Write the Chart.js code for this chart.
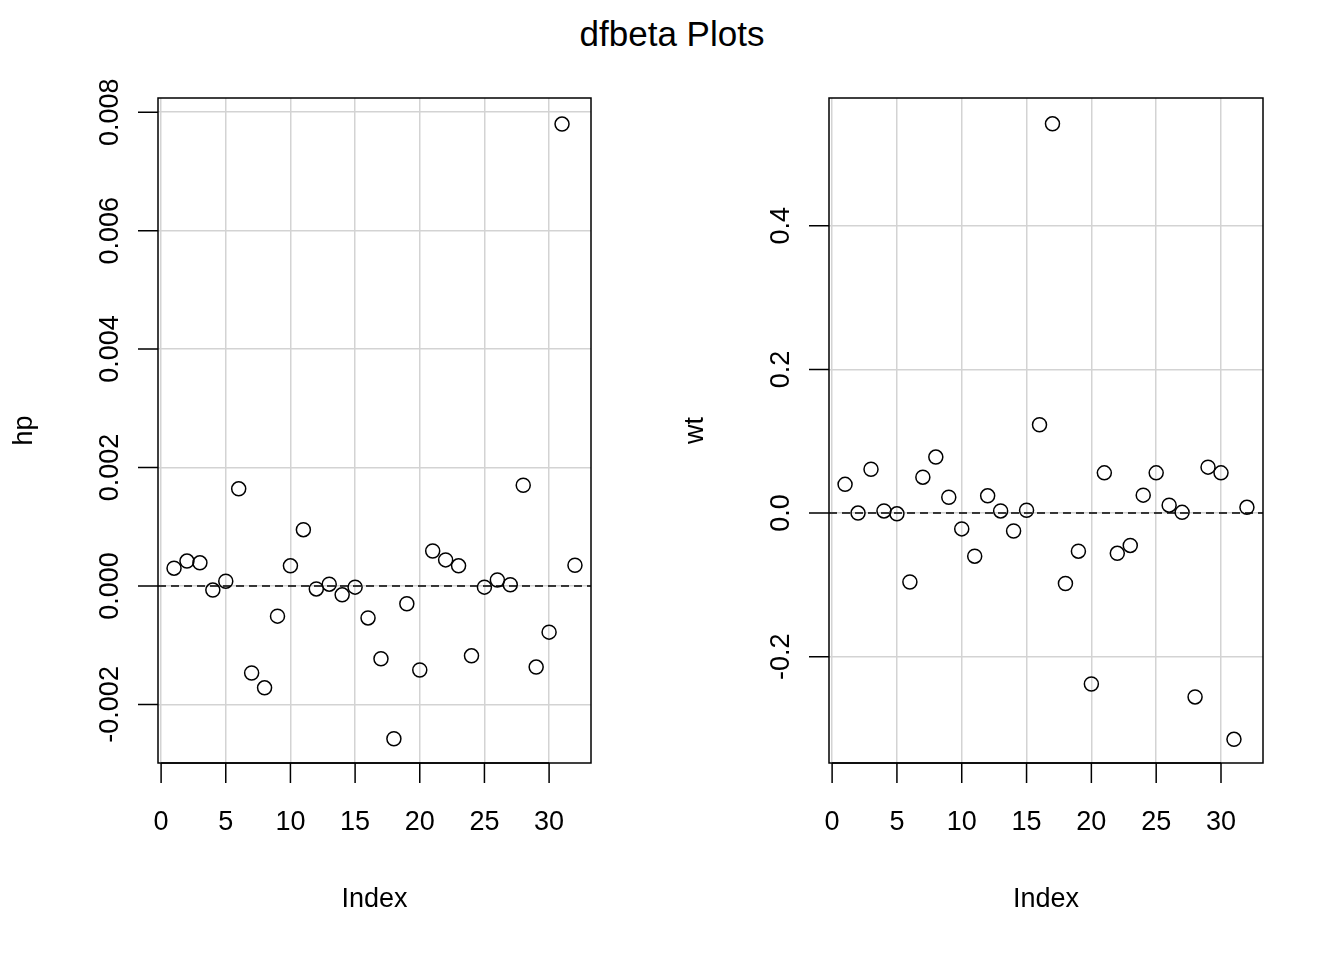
<!DOCTYPE html>
<html>
<head>
<meta charset="utf-8">
<script src="https://cdn.jsdelivr.net/npm/chart.js@4.4.0/dist/chart.umd.min.js"></script>
<style>
  body { margin: 0; background: #fff; width: 1344px; height: 960px; position: relative; overflow: hidden; }
  #title { position: absolute; top: 14px; left: 0; width: 1344px; text-align: center; font: 35px "Liberation Sans", Arial, sans-serif; color: #000; }
  .panel { position: absolute; top: 0; width: 672px; height: 960px; }
</style>
</head>
<body>
<div id="title">dfbeta Plots</div>
<div class="panel" style="left:0"><canvas id="hpChart"></canvas></div>
<div class="panel" style="left:672px"><canvas id="wtChart"></canvas></div>
<script>
// ── data ──
const index = Array.from({ length: 32 }, (_, i) => i + 1);
const hpValues = [0.0003, 0.00042, 0.00039, -0.00007, 0.00008, 0.00164, -0.00147, -0.00172,
  -0.00051, 0.00034, 0.00095, -0.00005, 0.00003, -0.00015, -0.00002, -0.00054,
  -0.00123, -0.00258, -0.0003, -0.00142, 0.00059, 0.00044, 0.00034, -0.00118,
  -0.00002, 0.0001, 0.00002, 0.0017, -0.00137, -0.00078, 0.0078, 0.00035];
const wtValues = [0.040, 0.0, 0.061, 0.003, -0.001, -0.096, 0.050, 0.078,
  0.022, -0.022, -0.060, 0.024, 0.003, -0.025, 0.004, 0.123,
  0.542, -0.098, -0.053, -0.238, 0.056, -0.056, -0.045, 0.025,
  0.056, 0.011, 0.001, -0.256, 0.064, 0.056, -0.315, 0.008];
const xTicks = [0, 5, 10, 15, 20, 25, 30];
const hpTicks = [-0.002, 0, 0.002, 0.004, 0.006, 0.008];
const hpTickLabels = ['-0.002', '0.000', '0.002', '0.004', '0.006', '0.008'];
const wtTicks = [-0.2, 0, 0.2, 0.4];
const wtTickLabels = ['-0.2', '0.0', '0.2', '0.4'];

const FONT = '"Liberation Sans", Arial, sans-serif';

// R-style box, axes and labels drawn from the chart's own scales
const rAxes = {
  id: 'rAxes',
  afterDraw(chart, args, o) {
    const { ctx, chartArea: a, scales: { x, y } } = chart;
    ctx.save();
    // dashed zero line
    ctx.strokeStyle = '#000'; ctx.lineWidth = 1.5; ctx.setLineDash([8, 5]);
    const y0 = y.getPixelForValue(0);
    ctx.beginPath(); ctx.moveTo(a.left, y0); ctx.lineTo(a.right, y0); ctx.stroke();
    ctx.setLineDash([]);
    // box
    ctx.lineWidth = 1.5;
    ctx.strokeRect(a.left, a.top, a.right - a.left, a.bottom - a.top);
    ctx.fillStyle = '#000';
    ctx.font = '27px ' + FONT;
    // x axis
    ctx.beginPath();
    ctx.moveTo(x.getPixelForValue(xTicks[0]), a.bottom);
    ctx.lineTo(x.getPixelForValue(xTicks[xTicks.length - 1]), a.bottom);
    xTicks.forEach(t => {
      const px = x.getPixelForValue(t);
      ctx.moveTo(px, a.bottom); ctx.lineTo(px, a.bottom + 20);
    });
    ctx.stroke();
    ctx.textAlign = 'center'; ctx.textBaseline = 'middle';
    xTicks.forEach(t => ctx.fillText(String(t), x.getPixelForValue(t), a.bottom + 60));
    ctx.fillText('Index', (a.left + a.right) / 2, a.bottom + 137);
    // y axis
    ctx.beginPath();
    o.ticks.forEach(t => {
      const py = y.getPixelForValue(t);
      ctx.moveTo(a.left, py); ctx.lineTo(a.left - 20, py);
    });
    ctx.stroke();
    o.ticks.forEach((t, i) => {
      ctx.save();
      ctx.translate(a.left - 47, y.getPixelForValue(t));
      ctx.rotate(-Math.PI / 2);
      ctx.fillText(o.labels[i], 0, 0);
      ctx.restore();
    });
    ctx.save();
    ctx.translate(a.left - 133, (a.top + a.bottom) / 2);
    ctx.rotate(-Math.PI / 2);
    ctx.fillText(o.title, 0, 0);
    ctx.restore();
    ctx.restore();
  }
};

function makePanel(id, values, yMin, yMax, ticks, labels, title, padLeft, padRight) {
  new Chart(document.getElementById(id), {
    type: 'scatter',
    data: {
      datasets: [{
        data: index.map((v, i) => ({ x: v, y: values[i] })),
        pointStyle: 'circle',
        pointRadius: 7,
        pointHoverRadius: 7,
        borderColor: '#000',
        borderWidth: 1.5,
        backgroundColor: 'rgba(0,0,0,0)'
      }]
    },
    options: {
      responsive: true,
      maintainAspectRatio: false,
      animation: false,
      layout: { padding: { left: 0, right: padRight, top: 98, bottom: 0 } },
      plugins: { legend: { display: false }, tooltip: { enabled: false }, rAxes: { ticks, labels, title } },
      scales: {
        x: {
          type: 'linear', min: -0.24, max: 33.24,
          afterBuildTicks: s => { s.ticks = xTicks.map(v => ({ value: v })); },
          afterFit: s => { s.height = 197; },
          ticks: { display: false },
          border: { display: false },
          grid: { color: '#d3d3d3', lineWidth: 1.5, drawTicks: false }
        },
        y: {
          min: yMin, max: yMax,
          afterBuildTicks: s => { s.ticks = ticks.map(v => ({ value: v })); },
          afterFit: s => { s.width = padLeft; },
          ticks: { display: false },
          border: { display: false },
          grid: { color: '#d3d3d3', lineWidth: 1.5, drawTicks: false }
        }
      }
    },
    plugins: [rAxes]
  });
}

makePanel('hpChart', hpValues, -0.00299, 0.00824, hpTicks, hpTickLabels, 'hp', 158, 81);
makePanel('wtChart', wtValues, -0.348, 0.578, wtTicks, wtTickLabels, 'wt', 157, 81);
</script>
</body>
</html>
